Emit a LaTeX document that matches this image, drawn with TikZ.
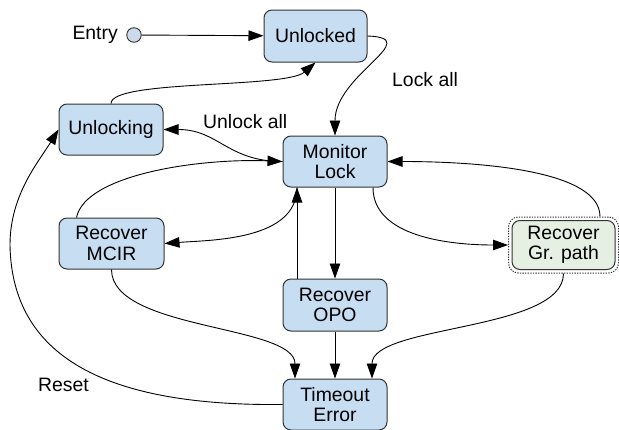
\documentclass[tikz,border=0pt]{standalone}
\usepackage{fontspec}
\setmainfont{Liberation Sans}
\usetikzlibrary{arrows.meta,fit}
\definecolor{stateblue}{RGB}{199,221,242}
\definecolor{stategreen}{RGB}{229,239,226}
\definecolor{bordergray}{RGB}{51,51,51}
\definecolor{dotblue}{RGB}{205,218,236}
\begin{document}
\begin{tikzpicture}[x=1pt,y=-1pt,
  every node/.style={font=\fontsize{19.4}{20.5}\selectfont},
  state/.style={draw=bordergray, line width=1pt, rounded corners=8pt,
    fill=stateblue, minimum width=104pt, minimum height=51pt,
    align=center, inner sep=0pt},
  label text/.style={anchor=west, inner sep=0pt},
  edge/.style={draw=black, line width=0.9pt,
    -{Triangle[length=15pt,width=10.5pt]}}
]
\useasboundingbox (0,0) rectangle (619,429);

% states
\node[state, minimum width=103pt, minimum height=52pt] (unlocked) at (315.5,36) {Unlocked};
\node[state] (unlocking) at (111,129.5) {Unlocking};
\node[state] (monitor) at (335,161.5) {Monitor\\Lock};
\node[state, minimum width=105pt] (mcir) at (111.5,243.5) {Recover\\MCIR};
\node[state, minimum height=52pt] (opo) at (335,305) {Recover\\OPO};
\node[state] (timeout) at (335,404.5) {Timeout\\Error};
\node[state, fill=stategreen, minimum width=103pt, minimum height=49pt] (grpath) at (563.5,245) {Recover\\Gr. path};
\node[draw=bordergray, line width=1pt, dash pattern=on 1.3pt off 1.3pt,
  rounded corners=10pt, fit=(grpath), inner sep=3pt] (grout) {};

% entry point
\node[circle, draw=bordergray, fill=dotblue, line width=0.9pt,
  minimum size=14.5pt, inner sep=0pt] (entrydot) at (134,35) {};
\node[anchor=east, inner sep=0pt] (entrytext) at (118,35) {Entry};

% transitions
\draw[edge] (entrydot) -- (unlocked);
\draw[edge] (unlocked.east) .. controls +(58,2) and +(0,-61) .. (monitor.north);
\node[label text] (lockall) at (392,80) {Lock all};
\draw[edge] (monitor.west) .. controls +(-55,0) and +(55,0) .. (unlocking.east);
\node[label text] (unlockall) at (203,122) {Unlock all};
\draw[edge] ([xshift=-35pt]mcir.north) .. controls +(9,-43) and +(-83,-3.5) .. (monitor.west);
\draw[edge] (unlocking.north) .. controls +(0,-24) and +(-30,26) .. (unlocked.south);
\draw[edge] (monitor.south) -- (opo.north);
\draw[edge] ([xshift=-38pt]opo.north) -- ([xshift=-38pt]monitor.south);
\draw[edge] ([xshift=-38pt]monitor.south) .. controls +(0,53) and +(46,-3.5) .. (mcir.east);
\draw[edge] ([xshift=38pt]monitor.south) .. controls +(0,48) and +(-62,0) .. (grout.west);
\draw[edge] ([xshift=36.5pt]grout.north) .. controls +(0,-48) and +(83,0) .. (monitor.east);
\draw[edge] (mcir.south) .. controls +(0,61) and +(0,-54) .. ([xshift=-40pt]timeout.north);
\draw[edge] (opo.south) -- (timeout.north);
\draw[edge] (grout.south) .. controls +(0,58) and +(0,-54) .. ([xshift=37pt]timeout.north);

% reset path back to unlocking
\coordinate (resetbend) at (10,245);
\draw[edge] (timeout.west) .. controls +(-153,1.5) and +(2,125) .. (resetbend)
  .. controls +(0,-50) and +(-20,32.5) .. (unlocking.west);
\node[label text] (resetlabel) at (38,385) {Reset};
\end{tikzpicture}
\end{document}
